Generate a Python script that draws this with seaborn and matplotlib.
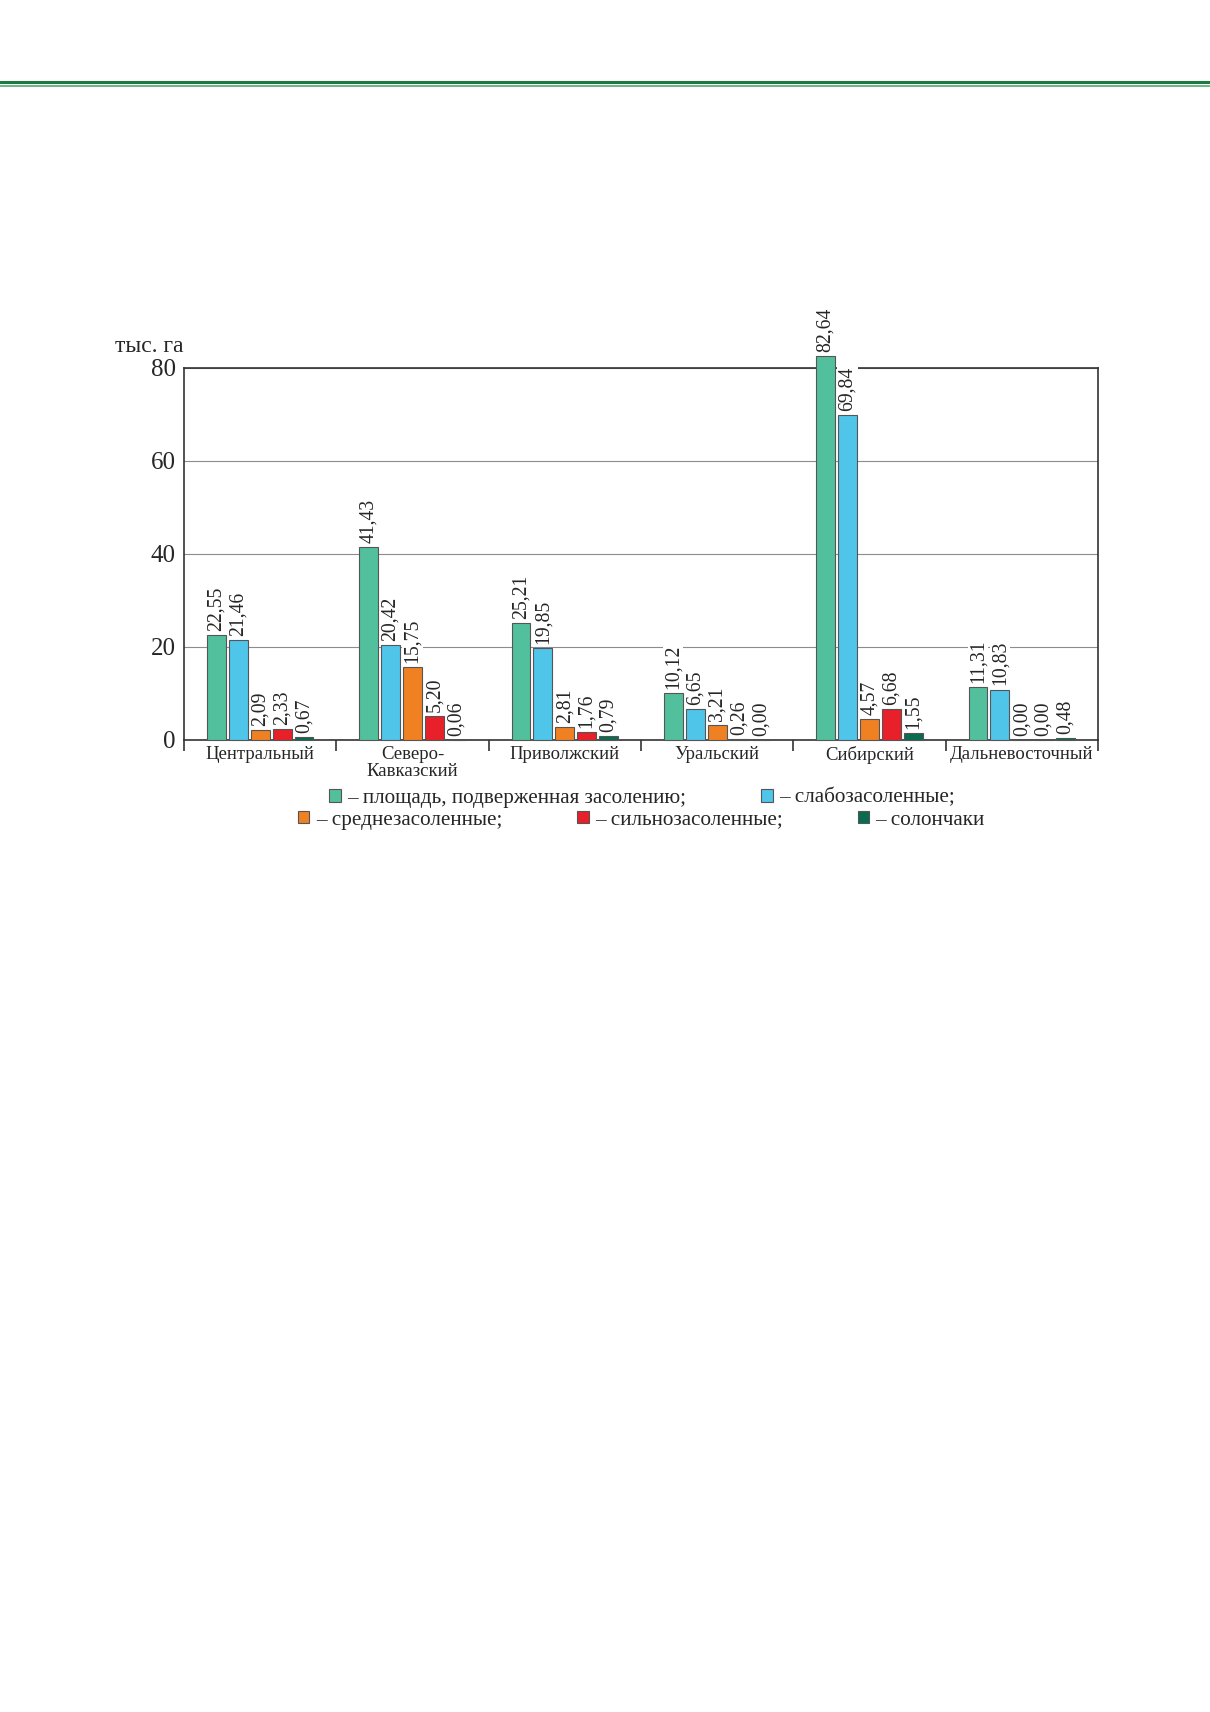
import numpy as np
import pandas as pd
import seaborn as sns
import matplotlib.pyplot as plt
from matplotlib.lines import Line2D

sns.set_style('white')
plt.rcParams['font.family'] = ['Liberation Serif', 'DejaVu Serif']

regions = ['Центральный', 'Северо-\nКавказский', 'Приволжский',
           'Уральский', 'Сибирский', 'Дальневосточный']
kinds = ['площадь, подверженная засолению;', 'слабозасоленные;',
         'среднезасоленные;', 'сильнозасоленные;', 'солончаки']

total = [22.55, 41.43, 25.21, 10.12, 82.64, 11.31]
weak = [21.46, 20.42, 19.85, 6.65, 69.84, 10.83]
medium = [2.09, 15.75, 2.81, 3.21, 4.57, 0.00]
strong = [2.33, 5.20, 1.76, 0.26, 6.68, 0.00]
solonchak = [0.67, 0.06, 0.79, 0.00, 1.55, 0.48]

colors = ['#52bf9d', '#4fc5ea', '#f08123', '#e8202a', '#0b6b50']

series = [total, weak, medium, strong, solonchak]
df = pd.concat([pd.DataFrame({'region': regions, 'value': s, 'kind': k})
                for s, k in zip(series, kinds)])

fig = plt.figure(figsize=(12.1, 17.12), dpi=100)
ax = fig.add_axes([184 / 1210, 1 - 740 / 1712, 914 / 1210, 372 / 1712])

sns.barplot(data=df, x='region', y='value', hue='kind', order=regions,
            hue_order=kinds, palette=colors, saturation=1, width=0.72,
            gap=0.14, edgecolor='#555555', linewidth=0.8, errorbar=None,
            ax=ax)

for p in ax.patches:
    p.set_clip_on(False)
    p.set_zorder(2.6)

for cont in ax.containers:
    labs = [f'{b.get_height():.2f}'.replace('.', ',') for b in cont]
    ax.bar_label(cont, labels=labs, rotation=90, padding=3, fontsize=14.2,
                 annotation_clip=False, zorder=4,
                 bbox=dict(fc='white', ec='none', pad=0.4))

ax.set_ylim(0, 80)
ax.set_xlim(-0.5, 5.5)
ax.set_yticks([0, 20, 40, 60, 80])
ax.yaxis.grid(True, color='#8c8c8c', lw=0.8)
ax.set_axisbelow(True)
for s in ax.spines.values():
    s.set_visible(True)
    s.set_color('#333333')
    s.set_linewidth(1.2)

ax.set_xticks(np.arange(-0.5, 6, 1), labels=[''] * 7)
ax.set_xticks(np.arange(len(regions)), labels=regions, minor=True)
ax.tick_params(axis='x', which='major', direction='out', length=8,
               width=1.2, color='#333333', bottom=True)
ax.tick_params(axis='x', which='minor', length=0, pad=4, labelsize=13.5,
               bottom=True)
ax.tick_params(axis='y', length=0, pad=6, labelsize=18)
for t in ax.get_xticklabels(minor=True):
    t.set_linespacing(1.0)
ax.set_xlabel('')
ax.set_ylabel('')

fig.text(183 / 1210, 1 - 347 / 1712, 'тыс. га', ha='right', va='center',
         fontsize=17)

handles, labels = ax.get_legend_handles_labels()
ax.legend_.remove()
labels = ['– ' + l for l in labels]
leg_kw = dict(loc='center', frameon=False, columnspacing=3.55,
              handlelength=0.55, handleheight=0.55, handletextpad=0.3,
              fontsize=15.2, borderpad=0)
fig.legend(handles[:2], labels[:2], ncol=2,
           bbox_to_anchor=(0.5306, 1 - 798 / 1712), **leg_kw)
fig.legend(handles[2:], labels[2:], ncol=3,
           bbox_to_anchor=(0.530, 1 - 820 / 1712), **leg_kw)

fig.add_artist(Line2D([0, 1], [1 - 81.5 / 1712] * 2, color='#1d7a40',
                      lw=2.2, transform=fig.transFigure))
fig.add_artist(Line2D([0, 1], [1 - 86 / 1712] * 2, color='#6ab583',
                      lw=1.4, transform=fig.transFigure))

fig.savefig('out.png', dpi=100)
